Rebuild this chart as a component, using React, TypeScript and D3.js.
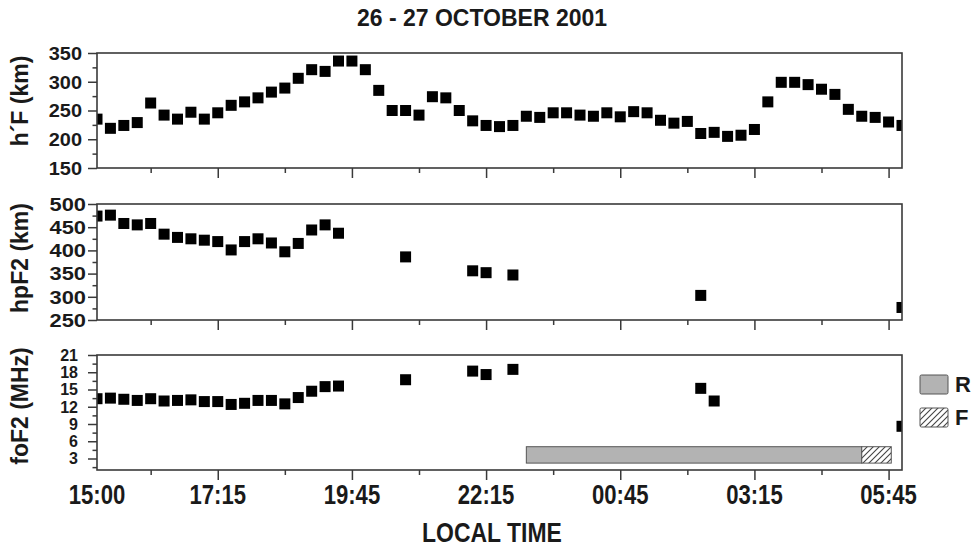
import React, { useEffect, useRef } from 'react';
import * as d3 from 'd3';

// --- Data (15 min soundings, 15:00 LT on 26 Oct to 06:00 LT on 27 Oct) ---
const sampleStart = '15:00';
const sampleStepMin = 15;

const hFValues = [
  235, 219, 224, 229, 263, 242, 235, 247, 235, 246, 259, 265, 272, 282, 289, 306,
  321, 318, 336, 336, 321, 285, 250, 250, 242, 274, 272, 250, 232, 224, 222,
  224, 240, 238, 246, 246, 242, 240, 246, 239, 248, 246, 233, 228, 231, 210,
  212, 205, 207, 217, 265, 299, 299, 295, 287, 278, 252, 240, 238, 230, 224
];

const hpF2Values = [
  474, 476, 458, 455, 458, 435, 428, 425, 422, 419, 401, 419, 425, 416, 397, 415,
  444, 455, 437, null, null, null, null, 386, null, null, null, null, 356, 352,
  null, 347, null, null, null, null, null, null, null, null, null, null, null,
  null, null, 303, null, null, null, null, null, null, null, null, null, null,
  null, null, null, null, 277
];

const foF2Values = [
  13.4, 13.5, 13.3, 13.1, 13.4, 13.0, 13.1, 13.2, 12.9, 12.9, 12.4, 12.6, 13.1,
  13.1, 12.5, 13.6, 14.7, 15.5, 15.6, null, null, null, null, 16.7, null, null,
  null, null, 18.2, 17.6, null, 18.5, null, null, null, null, null, null, null,
  null, null, null, null, null, null, 15.2, 13.0, null, null, null, null, null,
  null, null, null, null, null, null, null, null, 8.6
];

const timeTickLabels = ['15:00', '17:15', '19:45', '22:15', '00:45', '03:15', '05:45'];
const timeMinorTicks = ['16:00', '18:30', '21:00', '23:30', '02:00', '04:30'];

const hFTicks = [150, 200, 250, 300, 350];
const hFMinor = [175, 225, 275, 325];
const hpF2Ticks = [250, 300, 350, 400, 450, 500];
const hpF2Minor = [275, 325, 375, 425, 475];
const foF2Ticks = [3, 6, 9, 12, 15, 18, 21];
const foF2Minor = [1.5, 4.5, 7.5, 10.5, 13.5, 16.5, 19.5];

const spreadTypes = ['R', 'F'];
const spreadStart = ['23:00', '05:15'];
const spreadEnd = ['05:15', '05:48'];

// --- Helpers ---
const hoursFromStart = (t) => {
  const [h, m] = t.split(':').map(Number);
  const [h0, m0] = sampleStart.split(':').map(Number);
  let v = h + m / 60 - (h0 + m0 / 60);
  if (v < 0) v += 24;
  return v;
};

const toPoints = (values) =>
  values
    .map((v, i) => ({ t: (i * sampleStepMin) / 60, v }))
    .filter((d) => d.v !== null);

const FONT = '"Liberation Sans", Arial, Helvetica, sans-serif';
const AXIS = '#3a3a3a';

const App = () => {
  const ref = useRef(null);

  useEffect(() => {
    const svg = d3.select(ref.current);
    svg.selectAll('*').remove();

    const left = 97;
    const right = 902;
    const x = d3.scaleLinear().domain([0, 15]).range([left, right]);

    const panels = [
      { label: 'h´F (km)', values: hFValues, domain: [150, 350], ticks: hFTicks, minor: hFMinor,
        top: 53, bottom: 168, labelY: 101, tickFont: 19, tickScale: 1.05, tickEnd: 82 },
      { label: 'hpF2 (km)', values: hpF2Values, domain: [250, 500], ticks: hpF2Ticks, minor: hpF2Minor,
        top: 204, bottom: 320, labelY: 258, tickFont: 19, tickScale: 1.15, tickEnd: 86 },
      { label: 'foF2 (MHz)', values: foF2Values, domain: [1, 21], ticks: foF2Ticks, minor: foF2Minor,
        top: 355, bottom: 470, labelY: 406, tickFont: 16, tickScale: 1, tickEnd: 78 }
    ];

    const defs = svg.append('defs');
    const hatch = defs.append('pattern')
      .attr('id', 'hatch').attr('patternUnits', 'userSpaceOnUse')
      .attr('width', 6).attr('height', 6);
    hatch.append('rect').attr('width', 6).attr('height', 6).attr('fill', '#fff');
    hatch.append('path').attr('d', 'M-1,7 L7,-1 M-4,4 L4,-4 M2,10 L10,2')
      .attr('stroke', '#444').attr('stroke-width', 1.1);

    // title
    svg.append('text').attr('x', 482).attr('y', 26).attr('text-anchor', 'middle')
      .attr('font-family', FONT).attr('font-weight', 'bold').attr('font-size', 23)
      .attr('fill', '#1a1a1a').text('26 - 27 OCTOBER 2001');

    const majorT = timeTickLabels.map(hoursFromStart);
    const minorT = timeMinorTicks.map(hoursFromStart);

    panels.forEach((p, i) => {
      const y = d3.scaleLinear().domain(p.domain).range([p.bottom, p.top]);
      const g = svg.append('g');

      defs.append('clipPath').attr('id', `clip-${i}`).append('rect')
        .attr('x', left).attr('y', p.top).attr('width', right - left).attr('height', p.bottom - p.top);

      // spread bars in the foF2 panel
      if (i === 2) {
        const bars = g.append('g');
        spreadTypes.forEach((s, k) => {
          const x0 = x(hoursFromStart(spreadStart[k]));
          const x1 = x(hoursFromStart(spreadEnd[k]));
          bars.append('rect')
            .attr('x', x0).attr('y', y(5.05)).attr('width', x1 - x0).attr('height', y(2.2) - y(5.05))
            .attr('fill', s === 'R' ? '#b3b3b3' : 'url(#hatch)')
            .attr('stroke', '#555').attr('stroke-width', 1);
        });
      }

      // points
      g.append('g').attr('clip-path', `url(#clip-${i})`)
        .selectAll('rect').data(toPoints(p.values)).join('rect')
        .attr('x', (d) => x(d.t) - 5.5).attr('y', (d) => y(d.v) - 5.5)
        .attr('width', 11).attr('height', 11).attr('fill', '#000');

      // y axis minor + major
      const yMinor = g.append('g').attr('transform', `translate(${left},0)`)
        .call(d3.axisLeft(y).tickValues(p.minor).tickSize(4.5).tickFormat(() => ''));
      const yMajor = g.append('g').attr('transform', `translate(${left},0)`)
        .call(d3.axisLeft(y).tickValues(p.ticks).tickSize(9).tickFormat(() => ''));
      [yMinor, yMajor].forEach((a) => {
        a.select('.domain').remove();
        a.selectAll('line').attr('stroke', AXIS).attr('stroke-width', 1.5);
      });
      g.append('g').selectAll('text').data(p.ticks).join('text')
        .attr('transform', (d) => `translate(${p.tickEnd},${y(d)}) scale(${p.tickScale},1)`)
        .attr('dy', '0.36em').attr('text-anchor', 'end')
        .attr('font-family', FONT).attr('font-weight', 'bold').attr('font-size', p.tickFont)
        .attr('fill', '#1a1a1a').text((d) => d);

      // x axis ticks
      const xMinor = g.append('g').attr('transform', `translate(0,${p.bottom})`)
        .call(d3.axisBottom(x).tickValues(minorT).tickSize(5).tickFormat(() => ''));
      const xMajor = g.append('g').attr('transform', `translate(0,${p.bottom})`)
        .call(d3.axisBottom(x).tickValues(majorT.filter((t) => t > 0)).tickSize(10).tickFormat(() => ''));
      [xMinor, xMajor].forEach((a) => {
        a.select('.domain').remove();
        a.selectAll('line').attr('stroke', AXIS).attr('stroke-width', 1.5);
      });

      // frame
      g.append('rect').attr('x', left).attr('y', p.top)
        .attr('width', right - left).attr('height', p.bottom - p.top)
        .attr('fill', 'none').attr('stroke', AXIS).attr('stroke-width', 1.6);

      // y title
      g.append('text')
        .attr('transform', `translate(28,${p.labelY}) rotate(-90)`)
        .attr('text-anchor', 'middle').attr('font-family', FONT).attr('font-weight', 'bold')
        .attr('font-size', 23).attr('fill', '#1a1a1a').text(p.label);

      if (i === 2) {
        g.append('g').selectAll('text').data(timeTickLabels).join('text')
          .attr('transform', (d) => `translate(${x(hoursFromStart(d))},504) scale(0.82,1)`)
          .attr('text-anchor', 'middle').attr('font-family', FONT).attr('font-weight', 'bold')
          .attr('font-size', 27).attr('fill', '#1a1a1a').text((d) => d);
      }
    });

    // x title
    svg.append('text').attr('transform', 'translate(492,542) scale(0.82,1)')
      .attr('text-anchor', 'middle').attr('font-family', FONT).attr('font-weight', 'bold')
      .attr('font-size', 28).attr('fill', '#1a1a1a').text('LOCAL TIME');

    // legend
    const legend = svg.append('g').selectAll('g').data(spreadTypes).join('g')
      .attr('transform', (d, k) => `translate(920,${375 + k * 33})`);
    legend.append('rect').attr('width', 28).attr('height', 19).attr('rx', 1.5)
      .attr('fill', (d) => (d === 'R' ? '#b3b3b3' : 'url(#hatch)'))
      .attr('stroke', '#555').attr('stroke-width', 1);
    legend.append('text').attr('x', 35).attr('y', 17)
      .attr('font-family', FONT).attr('font-weight', 'bold').attr('font-size', 22)
      .attr('fill', '#1a1a1a').text((d) => d);
  }, []);

  return (
    <div>
      <svg ref={ref} width={974} height={548}
        style={{ position: 'absolute', left: 0, top: 0, background: '#fff' }} />
    </div>
  );
};

export default App;
